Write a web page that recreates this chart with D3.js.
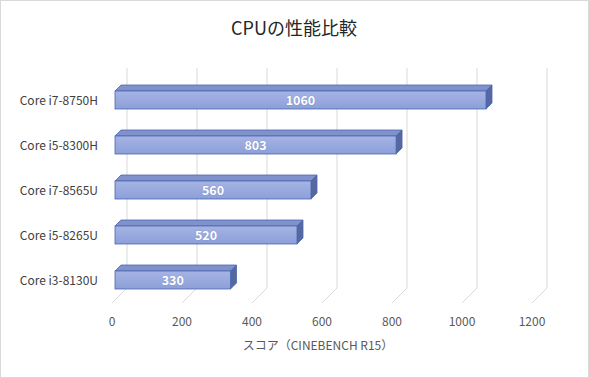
<!doctype html>
<html>
  <head>
    <meta charset="utf-8">
    <title>CPUの性能比較</title>
    <style>
      * { margin: 0; padding: 0; box-sizing: border-box; }
      body { background: #fff; }
      text { font-family: "Noto Sans CJK JP", "Noto Sans", sans-serif; }
    </style>
    <script src="https://cdnjs.cloudflare.com/ajax/libs/d3/7.8.5/d3.min.js"></script>
  </head>
  <body>
    <script>
      // data
      var cpus = ["Core i7-8750H", "Core i5-8300H", "Core i7-8565U", "Core i5-8265U", "Core i3-8130U"];
      var scores = [1060, 803, 560, 520, 330];
      var ticks = [0, 200, 400, 600, 800, 1000, 1200];

      var width = 589, height = 378;
      var depth = 15;       // wall depth offset in px
      var barFront = 3;     // bar front face offset from floor front
      var barDepth = 6;     // bar depth

      var svg = d3.select("body").append("svg")
                  .attr("width", width)
                  .attr("height", height);

      svg.append("rect")
         .attr("x", 0.5).attr("y", 0.5)
         .attr("width", width - 1).attr("height", height - 1)
         .attr("fill", "#fff")
         .attr("stroke", "#d9d9d9");

      var x = d3.scaleLinear().domain([0, 1200]).range([112, 532]);
      var y = d3.scaleBand().domain(cpus).range([77.5, 302.5]);

      var wallTop = 68, wallBottom = 288;

      // gridlines: back wall vertical + floor diagonal
      var grid = svg.append("g");
      grid.selectAll("path")
          .data(ticks)
          .enter()
          .append("path")
          .attr("d", function (d) {
            var bx = x(d) + depth;
            return "M" + bx + "," + wallTop + "V" + wallBottom + "L" + x(d) + "," + (wallBottom + depth);
          })
          .attr("fill", "none")
          .attr("stroke", "#d9d9d9")
          .attr("stroke-width", 1);

      // tick labels
      svg.append("g").selectAll("text")
         .data(ticks)
         .enter()
         .append("text")
         .attr("x", function (d) { return x(d); })
         .attr("y", 326)
         .attr("text-anchor", "middle")
         .attr("font-size", "12px")
         .attr("fill", "#595959")
         .text(function (d) { return d; });

      // category labels
      svg.append("g").selectAll("text")
         .data(cpus)
         .enter()
         .append("text")
         .attr("x", 98)
         .attr("y", function (d) { return y(d) + y.bandwidth() / 2 + 5; })
         .attr("text-anchor", "end")
         .attr("font-size", "12px")
         .attr("fill", "#404040")
         .text(function (d) { return d; });

      var defs = svg.append("defs");
      var grad = defs.append("linearGradient")
                     .attr("id", "front")
                     .attr("x1", 0).attr("y1", 0).attr("x2", 0).attr("y2", 1);
      grad.append("stop").attr("offset", "0%").attr("stop-color", "#a6b4e4");
      grad.append("stop").attr("offset", "100%").attr("stop-color", "#8c9fd9");

      var barH = 18;
      var bars = svg.append("g").selectAll("g")
                    .data(cpus)
                    .enter()
                    .append("g");

      function geom(d, i) {
        var x0 = x(0) + barFront, x1 = x(scores[i]) + barFront;
        var yc = y(d) + y.bandwidth() / 2;
        return { x0: x0, x1: x1, y0: yc - barH / 2, y1: yc + barH / 2 };
      }

      // top face
      bars.append("path")
          .attr("d", function (d, i) {
            var g = geom(d, i);
            return "M" + g.x0 + "," + g.y0 + "L" + (g.x0 + barDepth) + "," + (g.y0 - barDepth) +
                   "L" + (g.x1 + barDepth) + "," + (g.y0 - barDepth) + "L" + g.x1 + "," + g.y0 + "Z";
          })
          .attr("fill", "#8191cc")
          .attr("stroke", "#4a68b0")
          .attr("stroke-width", 0.8)
          .attr("stroke-linejoin", "round");

      // side face
      bars.append("path")
          .attr("d", function (d, i) {
            var g = geom(d, i);
            return "M" + g.x1 + "," + g.y0 + "L" + (g.x1 + barDepth) + "," + (g.y0 - barDepth) +
                   "L" + (g.x1 + barDepth) + "," + (g.y1 - barDepth) + "L" + g.x1 + "," + g.y1 + "Z";
          })
          .attr("fill", "#56689f")
          .attr("stroke", "#4a68b0")
          .attr("stroke-width", 0.8)
          .attr("stroke-linejoin", "round");

      // front face
      bars.append("rect")
          .attr("x", function (d, i) { return geom(d, i).x0; })
          .attr("y", function (d, i) { return geom(d, i).y0; })
          .attr("width", function (d, i) { var g = geom(d, i); return g.x1 - g.x0; })
          .attr("height", barH)
          .attr("fill", "url(#front)")
          .attr("stroke", "#4a68b0")
          .attr("stroke-width", 0.8);

      // value labels
      bars.append("text")
          .attr("x", function (d, i) { var g = geom(d, i); return (g.x0 + g.x1) / 2; })
          .attr("y", function (d, i) { return geom(d, i).y1 - 4.5; })
          .attr("text-anchor", "middle")
          .attr("font-size", "12.5px")
          .attr("font-weight", "bold")
          .attr("fill", "#fff")
          .attr("stroke", "#7a8cc4")
          .attr("stroke-width", 0.6)
          .attr("paint-order", "stroke")
          .text(function (d, i) { return scores[i]; });

      // title
      svg.append("text")
         .attr("x", 294)
         .attr("y", 35)
         .attr("text-anchor", "middle")
         .attr("font-size", "18px")
         .attr("fill", "#262626")
         .text("CPUの性能比較");

      // axis title
      svg.append("text")
         .attr("x", 318)
         .attr("y", 350)
         .attr("text-anchor", "middle")
         .attr("font-size", "12px")
         .attr("fill", "#595959")
         .text("スコア（CINEBENCH R15）");
    </script>
  </body>
</html>
